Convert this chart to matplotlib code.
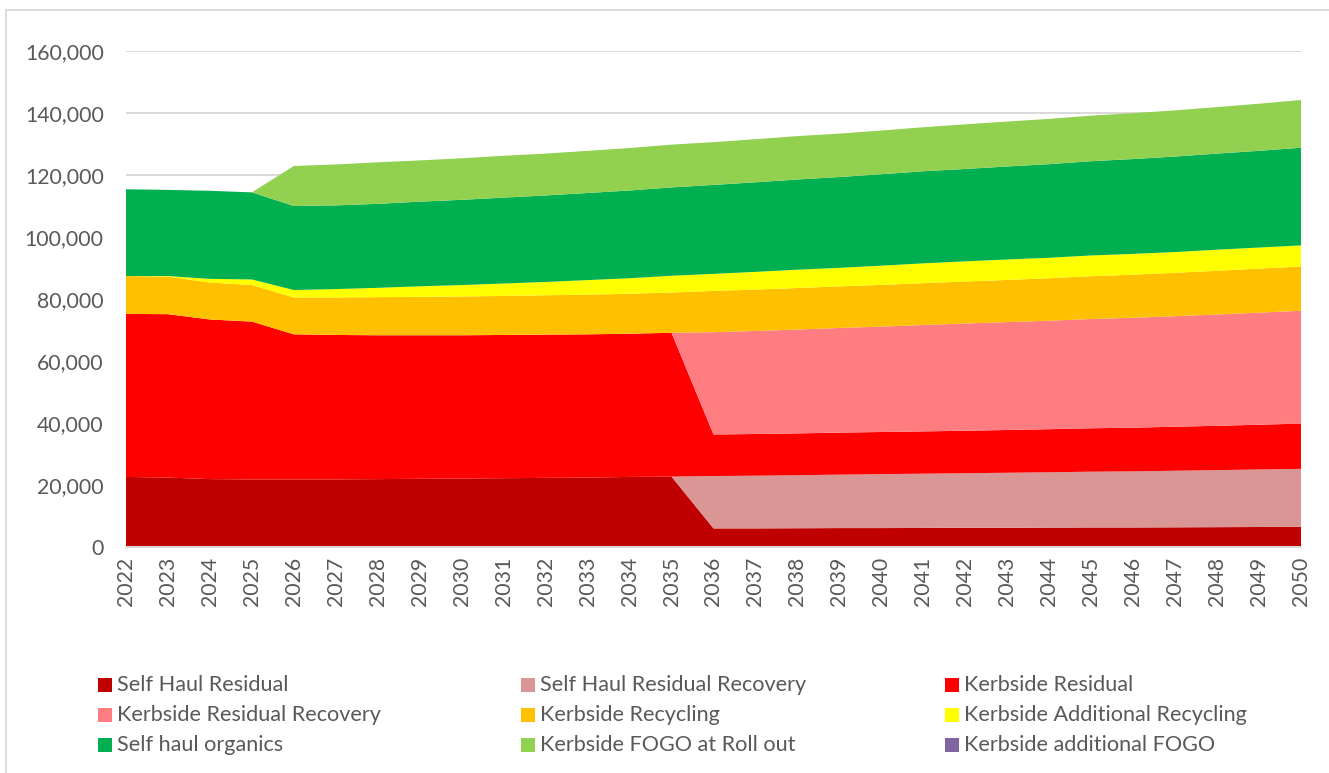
import matplotlib
matplotlib.use("Agg")
import matplotlib.pyplot as plt
from matplotlib.patches import Rectangle
from matplotlib.ticker import FuncFormatter, MultipleLocator

# Projected tonnages by waste stream, 2022-2050
years = list(range(2022, 2051))

self_haul_residual = [22600, 22400, 21900, 21800, 21800, 21800, 21900, 22000, 22100, 22200,
                      22300, 22400, 22600, 22700, 6000, 6000, 6050, 6100, 6100, 6150,
                      6200, 6200, 6250, 6300, 6300, 6350, 6400, 6450, 6500]

self_haul_residual_recovery = [0] * 14 + [16900, 17000, 17100, 17250, 17400, 17500, 17600, 17750,
                                          17850, 18000, 18100, 18250, 18400, 18550, 18700]

kerbside_residual = [52600, 52700, 51500, 50900, 46800, 46600, 46400, 46300, 46200, 46200,
                     46200, 46200, 46200, 46400, 13400, 13450, 13500, 13550, 13600, 13650,
                     13700, 13800, 13900, 14000, 14100, 14200, 14300, 14450, 14600]

kerbside_residual_recovery = [0] * 14 + [33000, 33250, 33500, 33750, 34000, 34300, 34600, 34800,
                                         35000, 35250, 35450, 35650, 35900, 36150, 36400]

kerbside_recycling = [12200, 12100, 11900, 11800, 11900, 12100, 12300, 12400, 12500, 12600,
                      12700, 12800, 12900, 13000, 13300, 13350, 13400, 13400, 13450, 13500,
                      13550, 13600, 13700, 13800, 13900, 14000, 14100, 14200, 14300]

kerbside_additional_recycling = [0, 200, 1200, 1800, 2400, 2700, 3000, 3400, 3700, 4000,
                                 4300, 4700, 5000, 5400, 5500, 5700, 5900, 6000, 6200, 6400,
                                 6500, 6600, 6600, 6700, 6700, 6700, 6800, 6800, 6800]

self_haul_organics = [28000, 27800, 28400, 28100, 27100, 27000, 27100, 27300, 27500, 27700,
                      27900, 28100, 28300, 28500, 28700, 28900, 29100, 29300, 29500, 29700,
                      29800, 30000, 30200, 30400, 30600, 30800, 31000, 31200, 31500]

kerbside_fogo_rollout = [0, 0, 0, 0, 12900, 13200, 13400, 13300, 13400, 13500,
                         13500, 13600, 13700, 13800, 13800, 13900, 14000, 14000, 14100, 14200,
                         14400, 14500, 14600, 14700, 14800, 14900, 15000, 15200, 15400]

kerbside_additional_fogo = [0] * 29

labels = ["Self Haul Residual", "Self Haul Residual Recovery", "Kerbside Residual",
          "Kerbside Residual Recovery", "Kerbside Recycling", "Kerbside Additional Recycling",
          "Self haul organics", "Kerbside FOGO at Roll out", "Kerbside additional FOGO"]

colors = ["#C00000", "#D99694", "#FF0000", "#FF7C80", "#FFC000", "#FFFF00",
          "#00B050", "#92D050", "#8064A2"]

series = [self_haul_residual, self_haul_residual_recovery, kerbside_residual,
          kerbside_residual_recovery, kerbside_recycling, kerbside_additional_recycling,
          self_haul_organics, kerbside_fogo_rollout, kerbside_additional_fogo]

plt.rcParams["font.family"] = ["Lato", "DejaVu Sans"]
text_color = "#595959"

W, H = 1329, 773
fig = plt.figure(figsize=(W / 100, H / 100), dpi=100)
fig.patch.set_facecolor("white")

# chart border
fig.patches.append(Rectangle((6 / W, -0.1), 1.2, 1 - 10 / H + 0.1, transform=fig.transFigure,
                             fill=False, edgecolor="#D9D9D9", linewidth=1.3))

left, right = 126 / W, 1301 / W
bottom, top = 1 - 547 / H, 1 - 51 / H
ax = fig.add_axes([left, bottom, right - left, top - bottom])

ax.stackplot(years, *series, colors=colors, labels=labels, linewidth=0)

ax.set_xlim(years[0], years[-1])
ax.set_ylim(0, 160000)
ax.yaxis.set_major_locator(MultipleLocator(20000))
ax.yaxis.set_major_formatter(FuncFormatter(lambda v, p: f"{int(v):,}"))
ax.set_xticks(years)
ax.set_xticklabels([str(y) for y in years], rotation=90)

ax.grid(axis="y", color="#D9D9D9", linewidth=1.4)
ax.set_axisbelow(True)
for s in ["top", "right", "left"]:
    ax.spines[s].set_visible(False)
ax.spines["bottom"].set_color("#D9D9D9")
ax.spines["bottom"].set_linewidth(1.4)
ax.tick_params(axis="both", length=0, labelsize=15.3, colors=text_color)
ax.tick_params(axis="y", pad=16)
ax.tick_params(axis="x", pad=7)

# legend laid out in three equal-width columns, filled row by row
col_x = [98, 521, 945]
row_y = [685, 715, 745]
for i, (lab, col) in enumerate(zip(labels, colors)):
    r, c = divmod(i, 3)
    x0, yc = col_x[c], row_y[r]
    fig.patches.append(Rectangle((x0 / W, 1 - (yc + 7) / H), 14 / W, 14 / H,
                                 transform=fig.transFigure, facecolor=col, edgecolor="none"))
    fig.text((x0 + 19) / W, 1 - yc / H, lab, fontsize=15.6, color=text_color,
             va="center", ha="left")

fig.savefig("out.png", dpi=100)
